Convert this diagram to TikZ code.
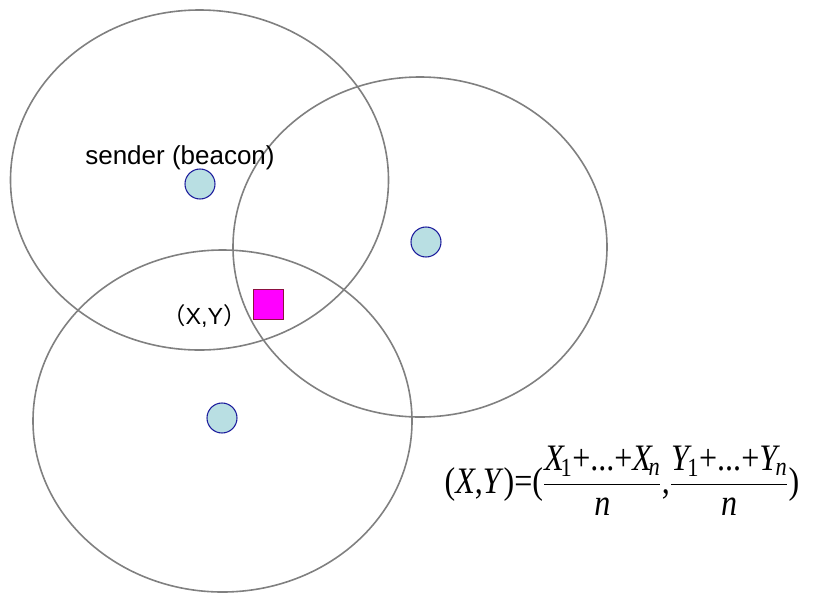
\documentclass[tikz,border=0pt]{standalone}
\usepackage{amsmath}
\usepackage{graphicx}
\usepackage{fontspec}
\setmainfont{Liberation Sans}
\newfontfamily\tms{Liberation Serif}
\newfontfamily\cjk{Noto Sans CJK SC}
\usepackage{tikz}
\usetikzlibrary{positioning}
\definecolor{rim}{HTML}{808080}
\definecolor{beaconfill}{HTML}{B9DFE3}
\definecolor{beacondraw}{HTML}{1C1C9C}
\definecolor{target}{HTML}{FF00FF}
\definecolor{targetdraw}{HTML}{8C1040}
\newcommand{\tsub}[2]{\textit{#1}\kern-0.14em\textsubscript{#2}}

\begin{document}
\begin{tikzpicture}[x=0.75pt,y=-0.75pt,cover/.style={draw=rim,line width=1.2pt},beacon/.style={circle,draw=beacondraw,fill=beaconfill,line width=0.8pt,inner sep=0pt,minimum size=22.5pt},targetbox/.style={rectangle,draw=targetdraw,fill=target,line width=0.6pt,inner sep=0pt,minimum size=22.5pt}]
\useasboundingbox (0,0) rectangle (817,593);
\draw[cover] (199.5,180) ellipse (189 and 170);
\draw[cover] (420,247) ellipse (187 and 170);
\draw[cover] (222.5,421) ellipse (189.5 and 171);
\node[beacon] (b1) at (200,184) {};
\node[beacon] (b2) at (426,242) {};
\node[beacon] (b3) at (222,418) {};
\node[targetbox] (xy) at (268,304) {};
\node[font=\fontsize{19.5}{21}\selectfont] (sender) at (180,158) {sender (beacon)};
\node[font=\fontsize{17.5}{19}\selectfont,left=1pt of xy,yshift=-9pt] (xylabel) {{\cjk （}X,Y{\cjk ）}};
\node[font=\tms\fontsize{28}{32}\selectfont,inner sep=0pt] (formula) at (622,481) {\resizebox{266pt}{\height}{$\displaystyle\text{(\textit{X},\textit{Y})=(}\frac{\text{\tsub{X}{1}+...+\tsub{X}{\textit{n}}}}{\text{\textit{n}}}\text{,}\frac{\text{\tsub{Y}{1}+...+\tsub{Y}{\textit{n}}}}{\text{\textit{n}}}\text{)}$}};
\end{tikzpicture}
\end{document}
